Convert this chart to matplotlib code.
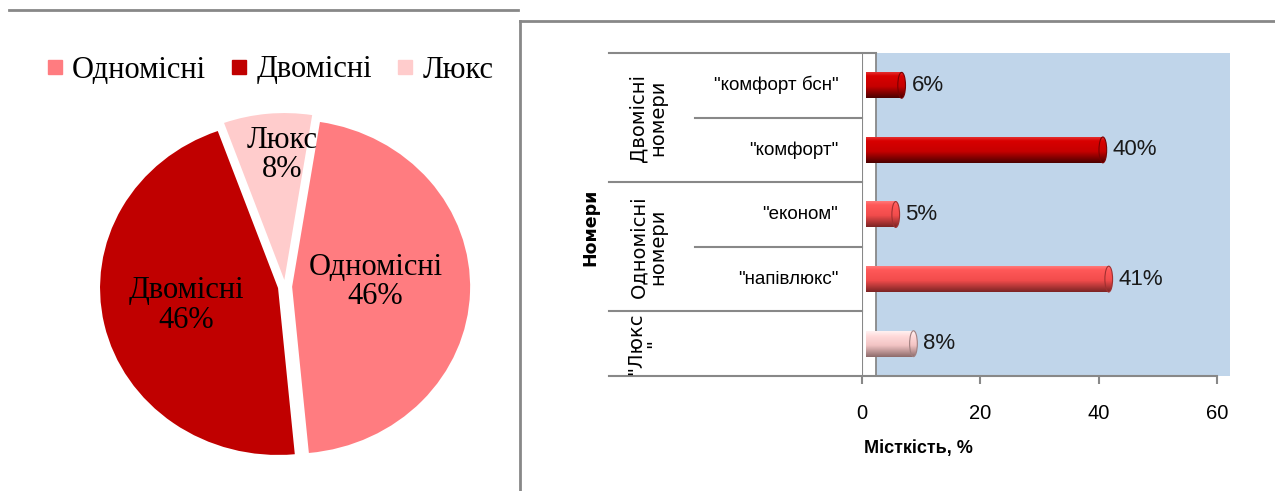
import matplotlib
matplotlib.use("Agg")
import numpy as np
import matplotlib.pyplot as plt
from matplotlib.lines import Line2D
from matplotlib.patches import Rectangle, Ellipse
from matplotlib.colors import LinearSegmentedColormap

# ---------------- data ----------------
pie_labels = ["Одномісні", "Двомісні", "Люкс"]
pie_values = [46, 46, 8]

room_types = ['"комфорт бсн"', '"комфорт"', '"економ"', '"напівлюкс"', '']
room_groups = ["Двомісні\nномери", "Одномісні\nномери", '"Люкс\n"']
group_sizes = [2, 2, 1]
capacity = [6, 40, 5, 41, 8]

x_ticks = [0, 20, 40, 60]
x_title = "Місткість, %"
y_title = "Номери"

# ---------------- style ----------------
pie_colors = ["#FF7C80", "#C00000", "#FFCCCC"]
bar_palette = [
    [(0.0, "#E43030"), (0.15, "#D80000"), (0.55, "#C60000"), (1.0, "#4A0000")],
    [(0.0, "#E43030"), (0.15, "#D80000"), (0.55, "#C60000"), (1.0, "#4A0000")],
    [(0.0, "#FF7A7A"), (0.15, "#FF5858"), (0.55, "#F24C4C"), (1.0, "#7A2424")],
    [(0.0, "#FF7A7A"), (0.15, "#FF5858"), (0.55, "#F24C4C"), (1.0, "#7A2424")],
    [(0.0, "#FFF2F2"), (0.2, "#FFDADA"), (0.55, "#F2C4C4"), (1.0, "#8C6A6A")],
]
cap_edges = ["#7A0000", "#7A0000", "#A03030", "#A03030", "#A08080"]
wall_color = "#C0D5EA"
line_gray = "#888888"

serif = ["Liberation Serif", "DejaVu Serif"]
narrow = ["Liberation Sans Narrow", "Liberation Sans", "DejaVu Sans"]
wide = ["DejaVu Sans"]

W, H = 1275, 491
fig = plt.figure(figsize=(W / 100, H / 100), dpi=100)
fig.patch.set_facecolor("white")


def fx(px):
    return px / W


def fy(py):
    return 1 - py / H


# panel frames
fig.add_artist(Line2D([fx(9), fx(518)], [fy(10), fy(10)], color=line_gray, lw=2))
fig.add_artist(Line2D([fx(520), fx(1274)], [fy(21), fy(21)], color=line_gray, lw=2))
fig.add_artist(Line2D([fx(520), fx(520)], [fy(21), fy(491)], color=line_gray, lw=2))

# ---------------- pie ----------------
cx, cy = 285.0, 286.6
sx, sy = 178.0, 166.9
span = 1.2
axp = fig.add_axes([fx(cx - span * sx), fy(cy + span * sy),
                    2 * span * sx / W, 2 * span * sy / H])
wedges, _ = axp.pie(pie_values, colors=pie_colors, startangle=81,
                    counterclock=False, explode=[0.04] * len(pie_values),
                    wedgeprops=dict(linewidth=0))
axp.set_aspect("auto")
axp.set_xlim(-span, span)
axp.set_ylim(-span, span)
axp.axis("off")

label_pos = [(0.508, 0.026), (-0.553, -0.112), (-0.014, 0.79)]
for name, val, (lx, ly) in zip(pie_labels, pie_values, label_pos):
    axp.text(lx, ly, f"{name}\n{val}%", ha="center", va="center",
             fontsize=22, family=serif, color="black", linespacing=1.02)

handles = [Line2D([], [], marker="s", linestyle="none", markersize=10.5,
                  markerfacecolor=c, markeredgecolor=c) for c in pie_colors]
fig.legend(handles, pie_labels, loc="center", bbox_to_anchor=(fx(270), fy(70)),
           ncol=3, frameon=False, prop={"family": serif, "size": 22},
           handlelength=0.55, handletextpad=0.3, columnspacing=0.8)

# ---------------- bars ----------------
unit = 5.917  # px per percent
x_max = (1230 - 862) / unit
ax = fig.add_axes([fx(862), fy(376), (1230 - 862) / W, (376 - 53) / H])
for s in ax.spines.values():
    s.set_visible(False)
ax.set_facecolor("none")

n = len(capacity)
ypos = [n - 1 - i for i in range(n)]
wall_x = (876 - 862) / unit
ax.add_patch(Rectangle((wall_x, -0.5), x_max - wall_x, n, facecolor=wall_color,
                       edgecolor="none", zorder=0))
ax.plot([wall_x, wall_x], [-0.5, n - 0.5], color=line_gray, lw=1.3, zorder=1)

# category table
left_edge = (609 - 862) / unit
inner_edge = (695 - 862) / unit
ax.plot([left_edge, wall_x], [n - 0.5, n - 0.5], color=line_gray, lw=1.5,
        clip_on=False, zorder=1)
bounds = np.cumsum(group_sizes)
for k in range(1, n):
    yb = n - 0.5 - k
    start = left_edge if k in bounds else inner_edge
    ax.plot([start, 0], [yb, yb], color=line_gray, lw=1.5, clip_on=False, zorder=1)
ax.plot([left_edge, x_ticks[-1]], [-0.5, -0.5], color=line_gray, lw=1.5,
        clip_on=False, zorder=1)
ax.plot([0, 0], [-0.5, n - 0.5], color=line_gray, lw=1.5, zorder=1)

# cylinders
x0 = 0.7
bar_h = 0.40
cap_w = 1.3
grad = np.linspace(0, 1, 256).reshape(-1, 1)
for i, (v, y) in enumerate(zip(capacity, ypos)):
    cmap = LinearSegmentedColormap.from_list(f"b{i}", bar_palette[i])
    ax.imshow(grad, cmap=cmap, aspect="auto", origin="upper",
              extent=(x0, x0 + v, y - bar_h / 2, y + bar_h / 2),
              zorder=3, interpolation="bilinear")
    ell = Ellipse((x0 + v, y), cap_w, bar_h, facecolor="none",
                  edgecolor=cap_edges[i], lw=0.8, zorder=5)
    ax.add_patch(ell)
    im = ax.imshow(grad, cmap=cmap, aspect="auto", origin="upper",
                   extent=(x0 + v - cap_w / 2, x0 + v + cap_w / 2,
                           y - bar_h / 2, y + bar_h / 2),
                   zorder=4, interpolation="bilinear")
    im.set_clip_path(ell)
    ax.text(x0 + v + cap_w / 2 + 1.0, y, f"{v}%", ha="left", va="center",
            fontsize=16, family=narrow, color="#1a1a1a", zorder=6)

# inner category labels
for lab, y in zip(room_types, ypos):
    if lab:
        ax.text(-4.0, y, lab, ha="right", va="center", fontsize=13.5,
                family=narrow, color="black", clip_on=False)

# group labels
grp_x = [(648 - 862) / unit, (648 - 862) / unit, (645 - 862) / unit]
start = 0
for g, size, gx in zip(room_groups, group_sizes, grp_x):
    yc = n - 1 - (start + (size - 1) / 2)
    ax.text(gx, yc, g, rotation=90, ha="center", va="center", fontsize=14,
            family=wide, color="black", linespacing=1.0, clip_on=False,
            multialignment="center")
    start += size

ax.text((590 - 862) / unit, 1.8, y_title, rotation=90, ha="center",
        va="center", fontsize=12.5, family=wide, weight="bold", clip_on=False)

ax.set_xlim(0, x_max)
ax.set_ylim(-0.5, n - 0.5)
ax.set_yticks([])
ax.set_xticks(x_ticks)
ax.set_xticklabels([str(t) for t in x_ticks], family=narrow, fontsize=14.5)
ax.tick_params(axis="x", direction="out", length=6, width=1.5, color=line_gray,
               pad=14, labelcolor="black")

fig.text(fx(918), fy(448), x_title, ha="center", va="center", fontsize=13,
         family=narrow, weight="bold")

fig.savefig("out.png", dpi=100)
